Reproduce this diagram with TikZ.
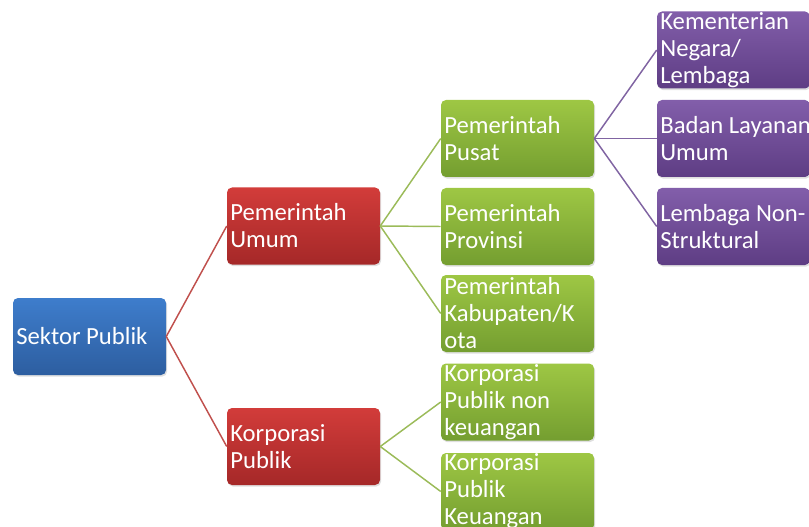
\documentclass[tikz,border=0pt]{standalone}
\usepackage{fontspec}
\setmainfont{Carlito}
\usetikzlibrary{shadows}
\definecolor{bluT}{RGB}{62,125,204}
\definecolor{bluB}{RGB}{45,94,160}
\definecolor{redT}{RGB}{210,60,58}
\definecolor{redB}{RGB}{165,40,40}
\definecolor{grnT}{RGB}{158,199,68}
\definecolor{grnB}{RGB}{116,158,48}
\definecolor{purT}{RGB}{130,94,170}
\definecolor{purB}{RGB}{94,61,132}
\definecolor{redL}{RGB}{192,80,77}
\definecolor{grnL}{RGB}{155,187,89}
\definecolor{purL}{RGB}{128,100,162}
\tikzset{
  box/.style={rectangle, rounded corners=3.75pt, minimum width=114.75pt, minimum height=57.75pt, inner sep=0pt,
    drop shadow={opacity=0.25, shadow xshift=0.8pt, shadow yshift=-1.2pt}},
  bbox/.style={box, top color=bluT, bottom color=bluB},
  rbox/.style={box, top color=redT, bottom color=redB},
  gbox/.style={box, top color=grnT, bottom color=grnB},
  pbox/.style={box, top color=purT, bottom color=purB},
  txt/.style={anchor=west, align=left, text=white, inner xsep=2.5pt, inner ysep=0pt,
    font=\fontsize{18.5pt}{20.25pt}\selectfont},
  rline/.style={draw=redL, line width=1.1pt},
  gline/.style={draw=grnL, line width=1.1pt},
  pline/.style={draw=purL, line width=1.1pt}
}
\begin{document}
\begin{tikzpicture}[x=0.75pt,y=-0.75pt]
\useasboundingbox (0,0) rectangle (809,527);
\clip (0,0) rectangle (809,527);
% boxes
\node[bbox] (sp) at (89.5,336.5) {};
\node[rbox] (pu) at (303.5,226) {};
\node[rbox] (kp) at (303.5,446.5) {};
\node[gbox] (ppus) at (517.5,138.5) {};
\node[gbox] (pprov) at (517.5,226.5) {};
\node[gbox] (pkab) at (517.5,313.5) {};
\node[gbox] (kpnk) at (517.5,402) {};
\node[gbox] (kpk) at (517.5,491.5) {};
\node[pbox] (km) at (733.5,50) {};
\node[pbox] (blu) at (733.5,138.5) {};
\node[pbox] (lns) at (733.5,226.5) {};
% connectors
\draw[rline] (sp.east) -- (pu.west);
\draw[rline] (sp.east) -- (kp.west);
\draw[gline] (pu.east) -- (ppus.west);
\draw[gline] (pu.east) -- (pprov.west);
\draw[gline] (pu.east) -- (pkab.west);
\draw[gline] (kp.east) -- (kpnk.west);
\draw[gline] (kp.east) -- (kpk.west);
\draw[pline] (ppus.east) -- (km.west);
\draw[pline] (ppus.east) -- (blu.west);
\draw[pline] (ppus.east) -- (lns.west);
% texts
\node[txt] (tsp) at (sp.west) {Sektor Publik};
\node[txt] (tpu) at (pu.west) {Pemerintah\\Umum};
\node[txt] (tkp) at (kp.west) {Korporasi\\Publik};
\node[txt] (tppus) at (ppus.west) {Pemerintah\\Pusat};
\node[txt] (tpprov) at (pprov.west) {Pemerintah\\Provinsi};
\node[txt] (tpkab) at (pkab.west) {Pemerintah\\Kabupaten/K\\ota};
\node[txt] (tkpnk) at (kpnk.west) {Korporasi\\Publik non\\keuangan};
\node[txt] (tkpk) at (kpk.west) {Korporasi\\Publik\\Keuangan};
\node[txt] (tkm) at (km.west) {Kementerian\\Negara/\\Lembaga};
\node[txt] (tblu) at (blu.west) {Badan Layanan\\Umum};
\node[txt] (tlns) at (lns.west) {Lembaga Non-\\Struktural};
\end{tikzpicture}
\end{document}
